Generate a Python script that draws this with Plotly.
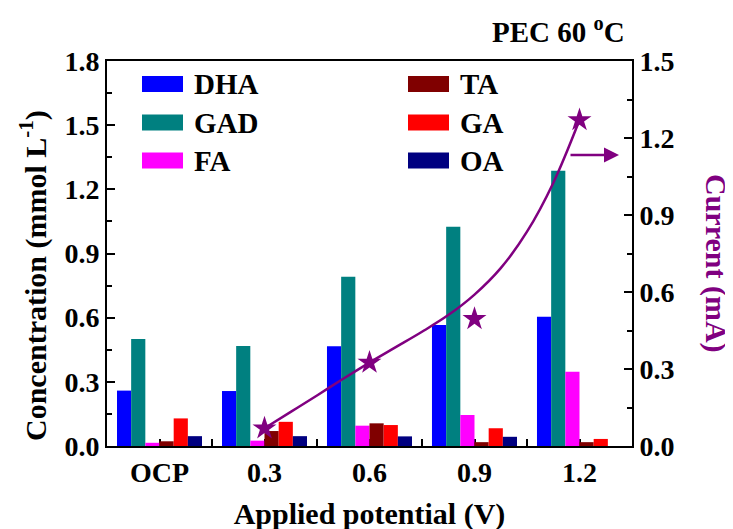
import plotly.graph_objects as go

# ---- data ----
categories = ["OCP", "0.3", "0.6", "0.9", "1.2"]
DHA = [0.259, 0.257, 0.466, 0.566, 0.604]
GAD = [0.500, 0.467, 0.791, 1.025, 1.287]
FA = [0.015, 0.025, 0.095, 0.145, 0.347]
TA = [0.022, 0.070, 0.106, 0.018, 0.018]
GA = [0.129, 0.113, 0.098, 0.083, 0.033]
OA = [0.046, 0.046, 0.045, 0.043, 0.0]

current_pos = [1, 2, 3, 4]
current_mA = [0.069, 0.325, 0.495, 1.270]

# fitted current curve (position in category units, mA)
fit_pos = [1.0, 1.25, 1.5, 1.75, 2.0, 2.25, 2.5, 2.75, 3.0, 3.25, 3.5, 3.75, 4.0]
fit_mA = [0.069, 0.133, 0.197, 0.262, 0.325, 0.385, 0.445, 0.510, 0.590, 0.693, 0.835, 1.025, 1.270]

series = [
    ("DHA", DHA, "#0000FF"),
    ("GAD", GAD, "#008080"),
    ("FA", FA, "#FF00FF"),
    ("TA", TA, "#800000"),
    ("GA", GA, "#FF0000"),
    ("OA", OA, "#000080"),
]

FONT = "Liberation Serif, Times New Roman, serif"
PURPLE = "#800080"

x_idx = list(range(len(categories)))

fig = go.Figure()
for name, vals, col in series:
    fig.add_trace(go.Bar(x=x_idx, y=vals, name=name, marker=dict(color=col, line=dict(width=0)),
                         showlegend=False))

fig.add_trace(go.Scatter(x=fit_pos, y=fit_mA, mode="lines", yaxis="y2",
                         line=dict(color=PURPLE, width=2.5, shape="spline"), showlegend=False))
fig.add_trace(go.Scatter(x=current_pos, y=current_mA, mode="markers", yaxis="y2",
                         marker=dict(symbol="star", size=18, color=PURPLE), showlegend=False))

# page offset (browser default body margin) and plot-area geometry in screen pixels
OFF = 8
W, H = 733, 529
SL, SR, ST, SB = 107, 632, 61, 446          # plot area edges as seen on screen
L, T = SL - OFF, ST - OFF
PW, PH = SR - SL, SB - ST
R, B = W - L - PW, H - T - PH

def px(x):
    return (x - SL) / PW

def py(y):
    return (SB - y) / PH

shapes = []
annotations = []
legend_cols = [(142, 192, series[:3]), (408, 458, series[3:])]
row_y = [84, 122.5, 160.5]
for sx, tx, items in legend_cols:
    for (name, _, col), yc in zip(items, row_y):
        shapes.append(dict(type="rect", xref="paper", yref="paper",
                           x0=px(sx), x1=px(sx + 41), y0=py(yc + 8), y1=py(yc - 8),
                           fillcolor=col, line=dict(width=0)))
        annotations.append(dict(xref="paper", yref="paper", x=px(tx), y=py(yc),
                                xanchor="left", yanchor="middle", text=name, showarrow=False,
                                font=dict(family=FONT, size=29, color="black", weight="bold")))

# arrow pointing to the right axis
annotations.append(dict(xref="paper", yref="paper", x=px(619), y=py(155), ax=-50, ay=0,
                        axref="pixel", ayref="pixel", text="", showarrow=True,
                        arrowhead=2, arrowsize=1.2, arrowwidth=2.5, arrowcolor=PURPLE))
# left-axis title
annotations.append(dict(xref="paper", yref="paper", x=px(33), y=py(276),
                        text="Concentration (mmol L<sup>-1</sup>)",
                        textangle=-90, showarrow=False, xanchor="center", yanchor="middle",
                        font=dict(family=FONT, size=30, color="black", weight="bold")))
# right-axis title (reads top to bottom)
annotations.append(dict(xref="paper", yref="paper", x=px(716), y=py(263), text="Current (mA)",
                        textangle=90, showarrow=False, xanchor="center", yanchor="middle",
                        font=dict(family=FONT, size=30, color=PURPLE, weight="bold")))
# header text
annotations.append(dict(xref="paper", yref="paper", x=px(627), y=py(30), text="PEC 60 <sup>o</sup>C",
                        showarrow=False, xanchor="right", yanchor="middle",
                        font=dict(family=FONT, size=29, color="black", weight="bold")))

axis_common = dict(showline=True, linecolor="black", linewidth=2, showgrid=False, zeroline=False,
                   automargin=False,
                   tickfont=dict(family=FONT, size=28, color="black", weight="bold"))

fig.update_layout(
    width=W, height=H,
    margin=dict(l=L, r=R, t=T, b=B, autoexpand=False),
    paper_bgcolor="white", plot_bgcolor="white",
    barmode="group", bargap=0.19, bargroupgap=0,
    font=dict(family=FONT, color="black", weight="bold"),
    xaxis=dict(**axis_common, range=[-0.5, 4.5], tickmode="array", tickvals=x_idx,
               ticktext=categories, ticks="inside", ticklen=7, tickwidth=2, tickcolor="black",
               mirror=True, layer="below traces",
               minor=dict(tickmode="array", tickvals=[0.5, 1.5, 2.5, 3.5], ticks="inside",
                          ticklen=7, tickwidth=2, tickcolor="black"),
               title=dict(text="Applied potential (V)", standoff=16,
                          font=dict(family=FONT, size=30, color="black", weight="bold"))),
    yaxis=dict(**axis_common, range=[0, 1.8], dtick=0.3, tick0=0, tickformat=".1f",
               ticks="inside", ticklen=8, tickwidth=2, tickcolor="black",
               minor=dict(dtick=0.15, ticks="inside", ticklen=5, tickwidth=2, tickcolor="black")),
    yaxis2=dict(**axis_common, overlaying="y", side="right", range=[0, 1.5], dtick=0.3, tick0=0,
                tickformat=".1f", ticks="inside", ticklen=8, tickwidth=2, tickcolor="black",
                minor=dict(dtick=0.15, ticks="inside", ticklen=5, tickwidth=2, tickcolor="black")),
    shapes=shapes,
    annotations=annotations,
)

fig.write_html("out.html")
